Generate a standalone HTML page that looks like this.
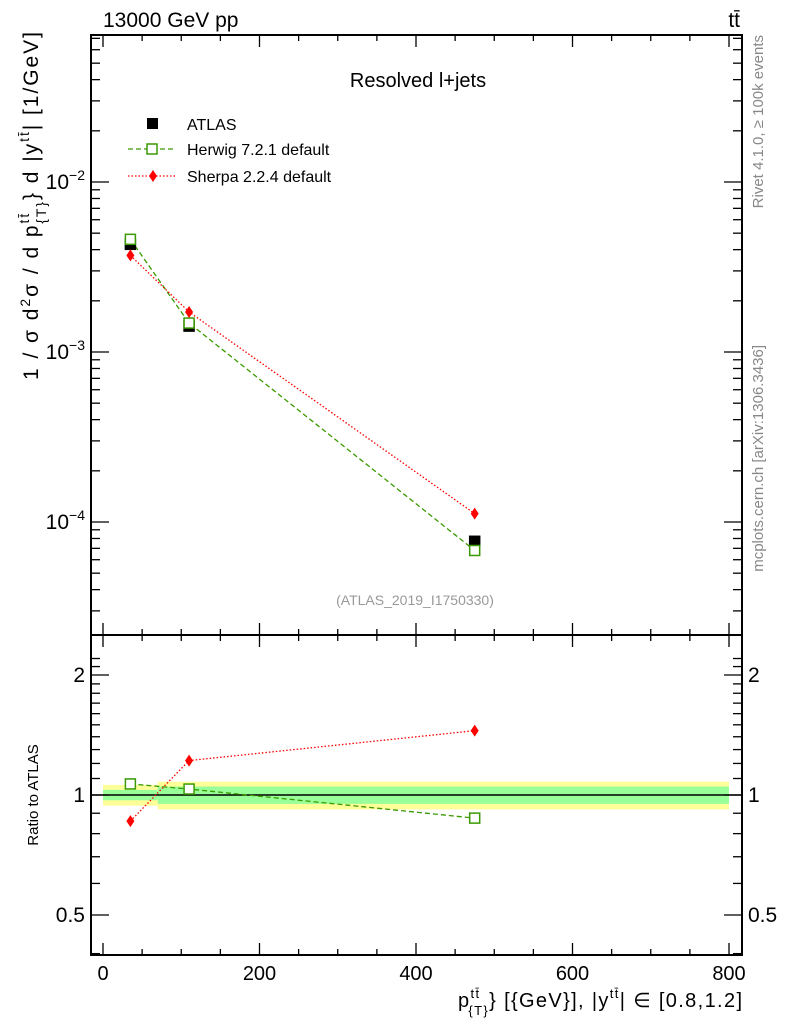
<!DOCTYPE html>
<html><head><meta charset="utf-8"><style>
body{margin:0;background:#fff;}
svg text{font-family:"Liberation Sans",sans-serif;}
</style></head><body>
<svg id="c" width="786" height="1024" xmlns="http://www.w3.org/2000/svg">
<g id="g"></g>
<text x="103" y="27" font-size="21">13000 GeV pp</text>
<text x="740" y="27" font-size="21" text-anchor="end">tt̄</text>
<text x="418" y="87" font-size="20" text-anchor="middle">Resolved l+jets</text>
<text x="415" y="605" font-size="14" fill="#999" text-anchor="middle">(ATLAS_2019_I1750330)</text>
<text transform="translate(763,35) rotate(-90)" font-size="15" fill="#888" text-anchor="end">Rivet 4.1.0, ≥ 100k events</text>
<text transform="translate(763,345) rotate(-90)" font-size="15" fill="#888" text-anchor="end">mcplots.cern.ch [arXiv:1306.3436]</text>
<text transform="translate(38,32) rotate(-90)" font-size="21" text-anchor="end" textLength="348" lengthAdjust="spacing">1 / σ d<tspan font-size="14" dy="-8">2</tspan><tspan dy="8">σ / d p</tspan><tspan font-size="14" dy="-9">tt̄</tspan><tspan font-size="14" dx="-12" dy="17">{T}</tspan><tspan dy="-8">} d |y</tspan><tspan font-size="14" dy="-9">tt̄</tspan><tspan dy="9">| [1/GeV]</tspan></text>
<text transform="translate(38,795) rotate(-90)" font-size="15" text-anchor="middle">Ratio to ATLAS</text>
<text x="458" y="1007" font-size="20" textLength="284" lengthAdjust="spacing">p<tspan font-size="13" dy="-9">tt̄</tspan><tspan font-size="13" dx="-12" dy="17">{T}</tspan><tspan dy="-8">} [{GeV}], |y</tspan><tspan font-size="13" dy="-9">tt̄</tspan><tspan dy="9">| ∈ [0.8,1.2]</tspan></text>
<g>
<rect x="147" y="118" width="11" height="11" fill="#000"/>
<text x="187" y="130" font-size="16">ATLAS</text>
<line x1="128" y1="149" x2="176" y2="149" stroke="#3a9a00" stroke-width="1.3" stroke-dasharray="5,3"/>
<rect x="147" y="144" width="10" height="10" fill="#fff" stroke="#3a9a00" stroke-width="1.5"/>
<text x="187" y="155" font-size="16">Herwig 7.2.1 default</text>
<line x1="128" y1="176" x2="176" y2="176" stroke="red" stroke-width="1.3" stroke-dasharray="1.5,2"/>
<path d="M153,170 L157,176 L153,182 L149,176Z" fill="red"/>
<text x="187" y="182" font-size="16">Sherpa 2.2.4 default</text>
</g>
</svg>
<script>
const xVals=[35,110,475];
const atlas=[4.3e-3,1.42e-3,7.7e-5];
const herwig=[4.6e-3,1.48e-3,6.8e-5];
const sherpa=[3.7e-3,1.72e-3,1.12e-4];
const herwigRatio=[1.066,1.035,0.875];
const sherpaRatio=[0.86,1.22,1.45];
const bandEdges=[0,70,800];
const yellowHalf=[0.06,0.08];
const greenHalf=[0.03,0.05];
const xTicks=[0,200,400,600,800];
const ratioTicks=[0.5,1,2];
const X=v=>103+v*(729-103)/800;
const YM=v=>182-(Math.log10(v)+2)*170;
const YR=v=>795-Math.log10(v)*398.6;
const g=document.getElementById('g');
const NS='http://www.w3.org/2000/svg';
function mk(t,a,p){const e=document.createElementNS(NS,t);for(const k in a)e.setAttribute(k,a[k]);(p||g).appendChild(e);return e;}
for(let i=0;i<2;i++){
 const r=mk('rect',{x:X(bandEdges[i]),width:X(bandEdges[i+1])-X(bandEdges[i]),y:YR(1+yellowHalf[i]),height:YR(1-yellowHalf[i])-YR(1+yellowHalf[i]),fill:'#ffff99'});
 
 
 const q=mk('rect',{x:X(bandEdges[i]),width:X(bandEdges[i+1])-X(bandEdges[i]),y:YR(1+greenHalf[i]),height:YR(1-greenHalf[i])-YR(1+greenHalf[i]),fill:'#99ff99'});
 
 
}
mk('line',{x1:91,x2:742,y1:YR(1),y2:YR(1),stroke:'#000','stroke-width':1.5});
const f1=mk('rect',{x:91,y:35,width:651,height:600,fill:'none',stroke:'#000','stroke-width':2});


const f2=mk('rect',{x:91,y:635,width:651,height:320,fill:'none',stroke:'#000','stroke-width':2});


for(let v=0;v<=800;v+=50){const big=v%200==0;const L=big?12:6;
 [[35,1],[635,-1],[635,1],[955,-1]].forEach(([y,d])=>mk('line',{x1:X(v),x2:X(v),y1:y,y2:y+d*L,stroke:'#000','stroke-width':1.3}));}
xTicks.forEach(v=>{const t=mk('text',{x:X(v),y:980,'font-size':20,'text-anchor':'middle'});t.textContent=v;
 
 });
for(let d=-5;d<=-1;d++)for(let m=1;m<10;m++){const v=m*Math.pow(10,d);const y=YM(v);if(y<35||y>635)continue;const L=m==1?18:9;
 mk('line',{x1:91,x2:91+L,y1:y,y2:y,stroke:'#000','stroke-width':1.3});mk('line',{x1:742,x2:742-L,y1:y,y2:y,stroke:'#000','stroke-width':1.3});}
[-2,-3,-4].forEach(d=>{const t=mk('text',{x:85,y:YM(Math.pow(10,d))+7,'font-size':21,'text-anchor':'end'});
 t.innerHTML='10<tspan font-size="14" dy="-9">−'+(-d)+'</tspan>';
 
 });
for(let v=0.4;v<=2.3;v+=0.1){const y=YR(v);if(y<635||y>955)continue;const maj=ratioTicks.some(r=>Math.abs(r-v)<1e-6);const L=maj?18:9;
 mk('line',{x1:91,x2:91+L,y1:y,y2:y,stroke:'#000','stroke-width':1.3});mk('line',{x1:742,x2:742-L,y1:y,y2:y,stroke:'#000','stroke-width':1.3});}
ratioTicks.forEach(v=>{[[85,'end'],[748,'start']].forEach(([x,a])=>{const t=mk('text',{x:x,y:YR(v)+7,'font-size':21,'text-anchor':a});t.textContent=v;
 
 });});
function line(vals,Y,col,dash,name){const p=mk('polyline',{points:vals.map((v,i)=>X(xVals[i])+','+Y(v)).join(' '),fill:'none',stroke:col,'stroke-width':1.3,'stroke-dasharray':dash});
 
 }
function sq(vals,Y,name,fill){vals.forEach((v,i)=>{const r=mk('rect',{x:X(xVals[i])-5,y:Y(v)-5,width:10,height:10,fill:fill?'#000':'#fff',stroke:fill?'#000':'#3a9a00','stroke-width':1.5});
 
 });}
function dia(vals,Y,name){vals.forEach((v,i)=>{const x=X(xVals[i]),y=Y(v);const p=mk('path',{d:`M${x},${y-6}L${x+4},${y}L${x},${y+6}L${x-4},${y}Z`,fill:'red'});
 
 });}
line(herwig,YM,'#3a9a00','5,3','herwig-line');
line(sherpa,YM,'red','1.5,2','sherpa-line');
sq(atlas,YM,'atlas-point',true);
sq(herwig,YM,'herwig-point',false);
dia(sherpa,YM,'sherpa-point');
line(herwigRatio,YR,'#3a9a00','5,3','herwig-ratio-line');
line(sherpaRatio,YR,'red','1.5,2','sherpa-ratio-line');
sq(herwigRatio,YR,'herwig-ratio-point',false);
dia(sherpaRatio,YR,'sherpa-ratio-point');
</script>
</body></html>
